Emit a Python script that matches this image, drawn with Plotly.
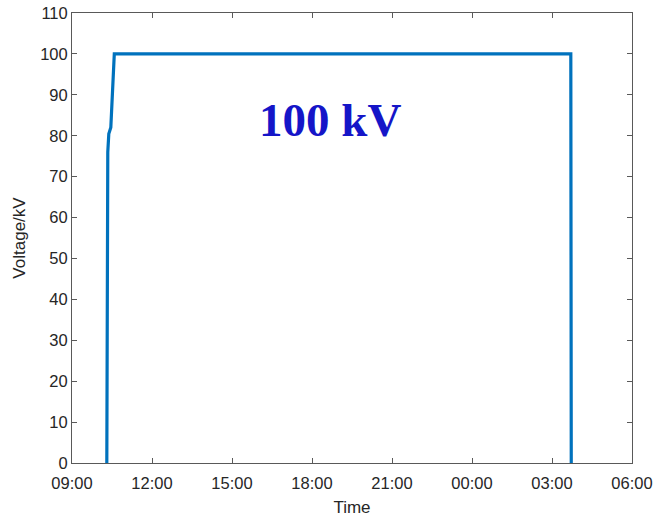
import plotly.graph_objects as go

# Data
times = [
    "2020-01-01 10:18:20",
    "2020-01-01 10:19:25",
    "2020-01-01 10:20:30",
    "2020-01-01 10:22:50",
    "2020-01-01 10:27:20",
    "2020-01-01 10:35:10",
    "2020-01-02 03:42:20",
    "2020-01-02 03:43:20",
]
voltage_kv = [0, 70, 76, 80.5, 82, 100, 100, 0]

x_tick_vals = [
    "2020-01-01 09:00", "2020-01-01 12:00", "2020-01-01 15:00", "2020-01-01 18:00",
    "2020-01-01 21:00", "2020-01-02 00:00", "2020-01-02 03:00", "2020-01-02 06:00",
]
x_tick_text = ["09:00", "12:00", "15:00", "18:00", "21:00", "00:00", "03:00", "06:00"]
y_tick_vals = [0, 10, 20, 30, 40, 50, 60, 70, 80, 90, 100, 110]

annotation_text = "<b>100 kV</b>"
annotation_x = "2020-01-01 18:41"
annotation_y = 83.8

axis_color = "#595959"
tick_font = dict(family="Liberation Sans, Arial, sans-serif", size=16.5, color="#262626")

fig = go.Figure()
fig.add_trace(go.Scatter(
    x=times, y=voltage_kv, mode="lines",
    line=dict(color="#0072BD", width=3.2),
    showlegend=False,
))

fig.add_annotation(
    x=annotation_x, y=annotation_y, text=annotation_text, showarrow=False,
    font=dict(family="Liberation Serif, Times New Roman, serif", size=47, color="#1515C8"),
    xanchor="center", yanchor="middle",
)

fig.update_xaxes(
    range=[x_tick_vals[0], x_tick_vals[-1]],
    tickvals=x_tick_vals, ticktext=x_tick_text,
    ticks="inside", ticklen=5, tickcolor=axis_color, tickwidth=1,
    showline=True, linecolor=axis_color, linewidth=1, mirror="ticks",
    showgrid=False, zeroline=False,
    tickfont=tick_font, ticklabelstandoff=5,
    title=dict(text="Time", font=dict(family="Liberation Sans, Arial, sans-serif", size=17, color="#262626"), standoff=12),
)
fig.update_yaxes(
    range=[0, 110],
    tickvals=y_tick_vals,
    ticks="inside", ticklen=5, tickcolor=axis_color, tickwidth=1,
    showline=True, linecolor=axis_color, linewidth=1, mirror="ticks",
    showgrid=False, zeroline=False,
    tickfont=tick_font,
    title=dict(text="Voltage/kV", font=dict(family="Liberation Sans, Arial, sans-serif", size=17, color="#262626"), standoff=10),
)

fig.update_layout(
    width=654, height=517,
    margin=dict(l=72, r=22, t=13, b=54, autoexpand=False),
    paper_bgcolor="white", plot_bgcolor="white",
)

fig.write_html("out.html", config={"displayModeBar": False},
               post_script="document.body.style.margin='0';")
